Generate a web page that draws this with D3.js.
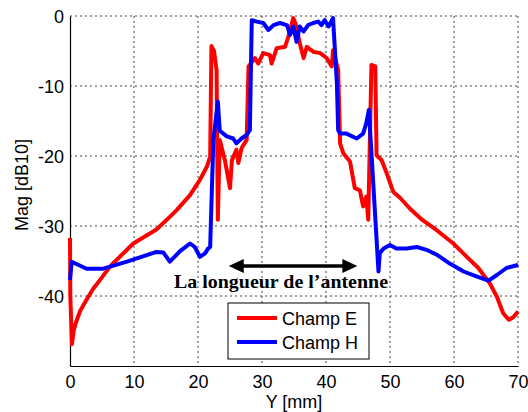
<!DOCTYPE html>
<html>
<head>
<meta charset="utf-8">
<script src="https://cdn.jsdelivr.net/npm/d3@7"></script>
<style>
  body { margin: 0; background: #fff; }
  svg { display: block; }
</style>
</head>
<body>
<svg id="chart"></svg>
<script>
// Champ E (red)
const xE = [0, 0.05, 0.3, 0.6, 1.0, 1.6, 2.6, 3.6, 4.7, 6.25, 7, 9.9, 13.5, 15.6, 16.7, 18.75, 20.3, 21.4, 21.9,
  22.1, 22.5, 22.9, 23.1, 23.4, 24.2, 25, 25.3, 26, 26.3, 26.8, 27.6, 27.9, 28.9, 29.4, 30.2,
  31.25, 31.5, 32.3, 33.6, 34.1, 34.9, 35.4, 35.9, 36.5, 37, 38, 39.1, 40.1, 40.9, 41.1, 41.9,
  42.2, 42.7, 43.75, 44.5, 45.3, 45.8, 46.3, 46.6, 47.1, 47.7, 47.9, 48.7, 49.5, 50.5, 51.6,
  53.1, 55, 57.3, 59.9, 62, 63.8, 65.6, 66.7, 67.7, 68.6, 69.3, 70];
const yE = [-31.7, -40, -46.9, -44.8, -43.6, -42.1, -40.5, -39, -37.7, -35.8, -35.1, -32.5, -30.5, -28.7, -27.7, -25.6, -23.4, -21.5, -20.1,
  -4.3, -5, -7.7, -29.1, -17.7, -20.6, -24.6, -20.6, -19.1, -21, -18.9, -17.7, -7.2, -6, -6.8, -5.3,
  -5.6, -6.8, -4.6, -4.4, -3, -0.3, -1.5, -3.9, -6, -4.4, -5.1, -5.3, -6, -7.2, -4.9, -7.7,
  -18.2, -19.6, -20.8, -24.6, -24.9, -27.2, -25.8, -29.1, -7, -7.2, -19.9, -20.6, -22.5, -25.1, -26,
  -27.5, -29.1, -30.6, -32.5, -34.4, -36, -38.2, -40.1, -42.5, -43.4, -43, -42.2];

// Champ H (blue)
const xH = [0, 0.26, 2.6, 5.2, 8.9, 13.5, 14.6, 15.6, 17.2, 18.75, 19.5, 20.3, 21.1, 21.6, 21.9,
  22.4, 23.1, 23.4, 24.5, 25.5, 26, 26.8, 27.6, 28.1, 28.4, 29.2, 30.2, 31, 31.8, 32.8, 33.9,
  34.4, 34.9, 35.4, 35.9, 36.5, 37.2, 38, 38.8, 39.3, 39.8, 40.4, 41.1, 41.7, 41.9, 42.2, 43.2,
  44.8, 45.8, 46.3, 46.7, 48.2, 48.4, 49, 50, 51, 52.6, 54.2, 55.7, 57.3, 59.4, 61.5, 63.5,
  65.4, 66.7, 68.2, 69.8, 70];
const yH = [-37.7, -35.1, -36.1, -36.1, -35.1, -33.7, -33.8, -35.1, -33.6, -32.5, -33, -34.4, -33.9, -33.2, -33,
  -17.7, -12.2, -16.4, -17.2, -17.5, -18.2, -17.5, -17, -16.3, -0.6, -0.8, -1, -2, -1.3, -1, -1.3,
  -2.7, -1.5, -3.7, -1.5, -2.2, -1.3, -1, -0.8, -1.3, -0.6, -1.5, -0.3, -9.6, -16.3, -16.8, -16.8,
  -17.5, -16.8, -15.3, -13.4, -36.5, -33.9, -33.2, -32.7, -33.2, -33.2, -33, -33.4, -34.1, -35.4, -36.5, -37.2,
  -37.8, -37, -36, -35.6, -35.5];

const xTicks = [0, 10, 20, 30, 40, 50, 60, 70];
const yTicks = [0, -10, -20, -30, -40];
const yGrid = [0, -10, -20, -30, -40];
const seriesNames = ["Champ E", "Champ H"];
const seriesColors = ["#ff0000", "#0000ff"];
const arrowFrom = 24.8, arrowTo = 44.9, arrowY = -35.7;
const annotation = "La longueur de l\u2019antenne";

const width = 528, height = 412;
const margin = { top: 16, right: 10, bottom: 46, left: 70 };

const svg = d3.select("#chart").attr("width", width).attr("height", height);

const x = d3.scaleLinear().domain([0, 70]).range([margin.left, width - margin.right]);
const y = d3.scaleLinear().domain([-50, 0]).range([height - margin.bottom, margin.top]);

const font = "'Liberation Sans', Arial, sans-serif";

// grid (dotted)
const grid = svg.append("g").attr("stroke", "#444").attr("stroke-width", 1).attr("stroke-dasharray", "2,3");
grid.selectAll(".gx").data(xTicks.filter(d => d > 0)).enter().append("line")
  .attr("x1", d => x(d)).attr("x2", d => x(d))
  .attr("y1", y(0)).attr("y2", y(-50));
grid.selectAll(".gy").data(yGrid).enter().append("line")
  .attr("x1", x(0)).attr("x2", x(70))
  .attr("y1", d => y(d)).attr("y2", d => y(d));

// axes
const xAxis = svg.append("g")
  .attr("transform", `translate(0,${y(-50)})`)
  .call(d3.axisBottom(x).tickValues(xTicks).tickSize(0).tickPadding(9).tickFormat(d => String(d)));
const yAxis = svg.append("g")
  .attr("transform", `translate(${x(0)},0)`)
  .call(d3.axisLeft(y).tickValues(yTicks).tickSize(0).tickPadding(6).tickFormat(d => String(d)));
[xAxis, yAxis].forEach(a => {
  a.select(".domain").attr("stroke", "#000").attr("stroke-width", 1.2);
  a.selectAll("text").attr("font-family", font).attr("font-size", "18px").attr("fill", "#000");
});
yAxis.selectAll("text").attr("dy", "0.36em");

// curves
const line = d3.line().x(d => x(d[0])).y(d => y(d[1]));
const curves = [d3.zip(xE, yE), d3.zip(xH, yH)];
curves.forEach((pts, i) => {
  svg.append("path")
    .datum(pts)
    .attr("fill", "none")
    .attr("stroke", seriesColors[i])
    .attr("stroke-width", 4)
    .attr("stroke-linejoin", "round")
    .attr("d", line);
});

// double arrow + annotation
const ay = y(arrowY);
const ax1 = x(arrowFrom), ax2 = x(arrowTo);
svg.append("line").attr("x1", ax1 + 10).attr("x2", ax2 - 10)
  .attr("y1", ay).attr("y2", ay).attr("stroke", "#000").attr("stroke-width", 3.5);
svg.append("path").attr("fill", "#000")
  .attr("d", `M${ax1},${ay} L${ax1 + 15},${ay - 7} L${ax1 + 15},${ay + 7} Z`);
svg.append("path").attr("fill", "#000")
  .attr("d", `M${ax2},${ay} L${ax2 - 15},${ay - 7} L${ax2 - 15},${ay + 7} Z`);
svg.append("text")
  .attr("x", 281).attr("y", 288)
  .attr("text-anchor", "middle")
  .attr("font-family", "'Liberation Serif', 'Times New Roman', serif")
  .attr("font-weight", "bold")
  .attr("font-size", "19px")
  .attr("textLength", 214)
  .attr("lengthAdjust", "spacingAndGlyphs")
  .text(annotation);

// legend
const legend = svg.append("g").attr("transform", "translate(228,303)");
legend.append("rect").attr("width", 141).attr("height", 56)
  .attr("fill", "#fff").attr("stroke", "#000").attr("stroke-width", 1);
seriesNames.forEach((name, i) => {
  const ly = 15 + i * 24;
  legend.append("line").attr("x1", 9).attr("x2", 49).attr("y1", ly).attr("y2", ly)
    .attr("stroke", seriesColors[i]).attr("stroke-width", 4);
  legend.append("text").attr("x", 54).attr("y", ly + 7)
    .attr("font-family", font).attr("font-size", "18px").text(name);
});

// axis labels
svg.append("text")
  .attr("x", x(35)).attr("y", 408)
  .attr("text-anchor", "middle")
  .attr("font-family", font).attr("font-size", "18px")
  .text("Y [mm]");
svg.append("text")
  .attr("transform", "translate(28,185) rotate(-90)")
  .attr("text-anchor", "middle")
  .attr("font-family", font).attr("font-size", "18px")
  .text("Mag [dB10]");
</script>
</body>
</html>
